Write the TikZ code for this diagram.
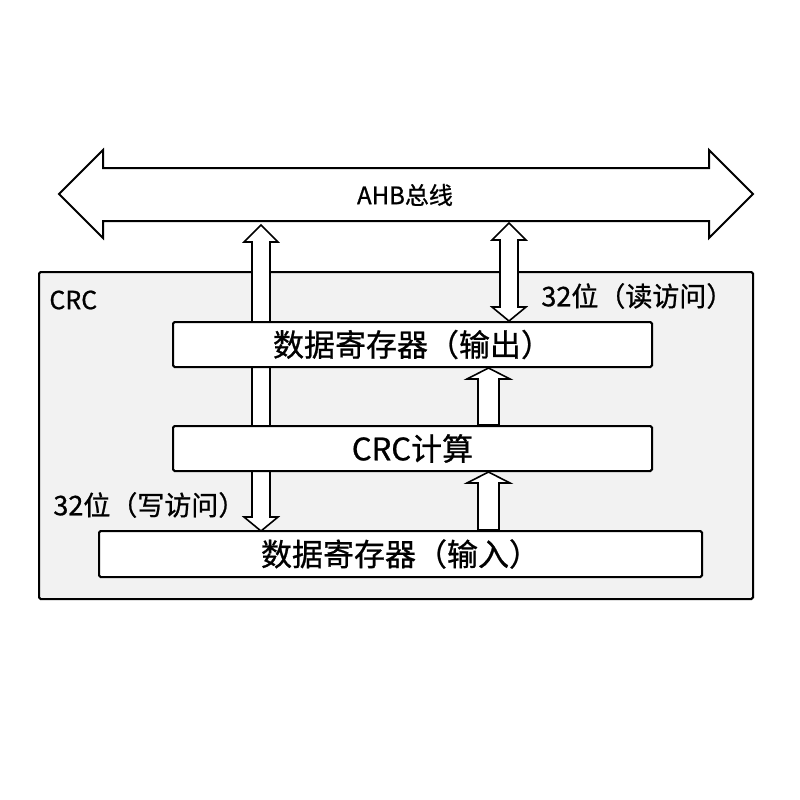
\documentclass[tikz,border=0pt]{standalone}
\usepackage{fontspec}
\setmainfont{Noto Sans CJK SC}[FakeBold=0.8]
\usetikzlibrary{calc}
% double block arrow, #1 top tip, #2 bottom tip
\def\dblblock(#1)(#2){\draw[blk] (#1) -- ++(17,17) -- ++(-8,0) -- ($(#2)+(9,-14)$) -- ++(8,0) -- (#2) -- ++(-17,-14) -- ++(8,0) -- ($(#1)+(-9,17)$) -- ++(-8,0) -- cycle;}
% single block arrow upwards, #1 tip, #2 tail
\def\upblock(#1)(#2){\draw[blk] (#1) -- ++(21.5,11) -- ++(-11,0) -- ($(#2)+(10.5,0)$) -- ($(#2)+(-10.5,0)$) -- ($(#1)+(-10.5,11)$) -- ++(-11,0) -- cycle;}

\tikzset{
	blk/.style={draw=black, line width=0.8pt, fill=white, line join=miter},
	regbox/.style={draw=black, line width=1pt, fill=white, rounded corners=0.8pt, inner sep=0pt, font=\fontsize{15.5}{17}\selectfont},
	lbl/.style={inner sep=0pt, font=\fontsize{13.5}{15}\selectfont}
}

\begin{document}
\begin{tikzpicture}[x=0.5pt, y=-0.5pt]
		%%%%% START %%%%%
		\useasboundingbox (0,0) rectangle (800,800);
		
		% bus
		\draw[blk, line width=1pt] (59,194) -- (103,150) -- (103,168) -- (709,168) -- (709,150) -- (753,194) -- (709,238) -- (709,221) -- (103,221) -- (103,238) -- cycle;
		\node[inner sep=0pt, font=\fontsize{12}{14}\selectfont] (bus) at (405,195) {AHB总线};
		
		% CRC block
		\draw[line width=1pt, fill=black!5, rounded corners=0.8pt] (39,272) rectangle (753,599);
		\node[lbl, anchor=west, font=\fontsize{12.5}{14}\selectfont] (crc) at (49,300) {CRC};
		
		\coordinate (la) at (261,225);
		\coordinate (ra) at (509,223);
		\coordinate (ua) at (488.5,0);
		
		% write path, behind the registers
		\dblblock(la)(la |- 0,531)
		
		\node[regbox, minimum width=239.5pt, minimum height=22.5pt] (out) at (412.5,344.5) {数据寄存器（输出）};
		\node[regbox, minimum width=239.5pt, minimum height=22.5pt] (calc) at (412.5,448.5) {CRC计算};
		\node[regbox, minimum width=301.5pt, minimum height=23pt] (in) at (400.5,554) {数据寄存器（输入）};
		
		\dblblock(ra)(ra |- out.north)
		\upblock(ua |- out.south)(ua |- calc.north)
		\upblock(ua |- calc.south)(ua |- in.north)
		
		\node[lbl, anchor=west] (rd) at (541,296) {32位（读访问）};
		\node[lbl, anchor=west] (wr) at (53,505) {32位（写访问）};
		
		%%%%% END %%%%%
	\end{tikzpicture}
\end{document}
